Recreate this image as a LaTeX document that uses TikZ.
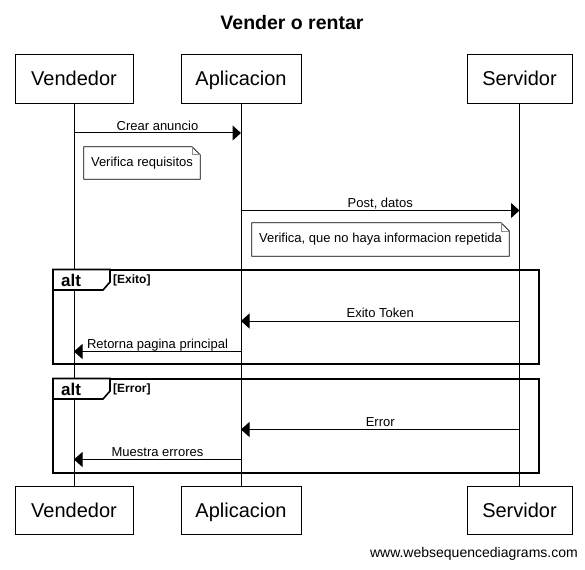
\documentclass[tikz,border=0pt]{standalone}
\usepackage{fontspec}
\setmainfont{Liberation Sans}
\usetikzlibrary{arrows.meta,calc}
\tikzset{
  actor/.style={draw, line width=1pt, minimum height=48.5pt, inner sep=0pt, text height=16pt, text depth=2pt, font=\fontsize{20}{22}\selectfont},
  lifeline/.style={line width=1pt},
  msg/.style={line width=1pt, -{Triangle[length=8.5pt,width=15pt]}},
  msglabel/.style={anchor=base, inner sep=0pt, font=\fontsize{13}{15}\selectfont},
  notetext/.style={inner sep=0pt, font=\fontsize{13}{15}\selectfont},
  notebox/.style={line width=0.8pt, fill=white},
  frame/.style={line width=2pt},
  tabshape/.style={line width=1.6pt, fill=white},
  alttext/.style={anchor=base west, inner sep=0pt, font=\bfseries\fontsize{17}{19}\selectfont},
  guard/.style={anchor=base west, inner sep=0pt, font=\bfseries\fontsize{12}{14}\selectfont}
}
\newcommand\drawnote[1]{%
  \draw[notebox] (#1.north west) -- ($(#1.north east)+(-8,0)$) -- ($(#1.north east)+(0,8)$) -- (#1.south east) -- (#1.south west) -- cycle;
  \draw[line width=0.6pt, black!45] ($(#1.north east)+(-8,0)$) -- ($(#1.north east)+(-8,8)$) -- ($(#1.north east)+(0,8)$);
}
\begin{document}
\begin{tikzpicture}[x=1pt,y=-1pt]
\useasboundingbox (0,0) rectangle (585,569);

% title
\node[font=\bfseries\fontsize{19.5}{21}\selectfont, inner sep=0pt] (title) at (292,23) {Vender o rentar};

% actors
\node[actor, minimum width=118pt] (vtop) at (74,79) {Vendedor};
\node[actor, minimum width=120pt] (atop) at (241,79) {Aplicacion};
\node[actor, minimum width=105pt] (stop) at (519.5,79) {Servidor};
\node[actor, minimum width=118pt] (vbot) at (74,510.5) {Vendedor};
\node[actor, minimum width=120pt] (abot) at (241,510.5) {Aplicacion};
\node[actor, minimum width=105pt] (sbot) at (519.5,510.5) {Servidor};

% lifelines
\draw[lifeline] (vtop.south) -- (vbot.north);
\draw[lifeline] (atop.south) -- (abot.north);
\draw[lifeline] (stop.south) -- (sbot.north);

% message end points
\coordinate (m1a) at (74,133);   \coordinate (m1b) at (241,133);
\coordinate (m2a) at (241,210.5);\coordinate (m2b) at (519.5,210.5);
\coordinate (m3a) at (519.5,321);\coordinate (m3b) at (241,321);
\coordinate (m4a) at (241,351.5);\coordinate (m4b) at (74,351.5);
\coordinate (m5a) at (519.5,429.5);\coordinate (m5b) at (241,429.5);
\coordinate (m6a) at (241,459.5);\coordinate (m6b) at (74,459.5);

% messages
\draw[msg] (m1a) -- (m1b);
\node[msglabel] (l1) at (157.5,130.3) {Crear anuncio};
\draw[msg] (m2a) -- (m2b);
\node[msglabel] (l2) at (380.25,207.5) {Post, datos};

% notes
\node[notetext, minimum width=116pt, minimum height=32pt] (n1) at (142,163) {};
\drawnote{n1}
\node[notetext] at (n1.center) {Verifica requisitos};
\node[notetext, minimum width=257pt, minimum height=33pt] (n2) at (380.5,239.5) {};
\drawnote{n2}
\node[notetext] at (n2.center) {Verifica, que no haya informacion repetida};

% alt frame 1
\draw[frame] (53,269.5) rectangle (539,364);
\draw[tabshape] (53,269.5) -- (110,269.5) -- (110,282) -- (103,290) -- (53,290) -- cycle;
\node[alttext] (alt1) at (61,286.5) {alt};
\node[guard] (g1) at (113,283.5) {[Exito]};
\draw[msg] (m3a) -- (m3b);
\node[msglabel] (l3) at (380.25,317.8) {Exito Token};
\draw[msg] (m4a) -- (m4b);
\node[msglabel] (l4) at (157.5,348.3) {Retorna pagina principal};

% alt frame 2
\draw[frame] (53,378.5) rectangle (539,473);
\draw[tabshape] (53,378.5) -- (110,378.5) -- (110,391) -- (103,399) -- (53,399) -- cycle;
\node[alttext] (alt2) at (61,395.5) {alt};
\node[guard] (g2) at (113,392.5) {[Error]};
\draw[msg] (m5a) -- (m5b);
\node[msglabel] (l5) at (380.25,426.3) {Error};
\draw[msg] (m6a) -- (m6b);
\node[msglabel] (l6) at (157.5,456.3) {Muestra errores};

% footer
\node[anchor=east, inner sep=0pt, font=\fontsize{14}{16}\selectfont] (www) at (578,554) {www.websequencediagrams.com};
\end{tikzpicture}
\end{document}
